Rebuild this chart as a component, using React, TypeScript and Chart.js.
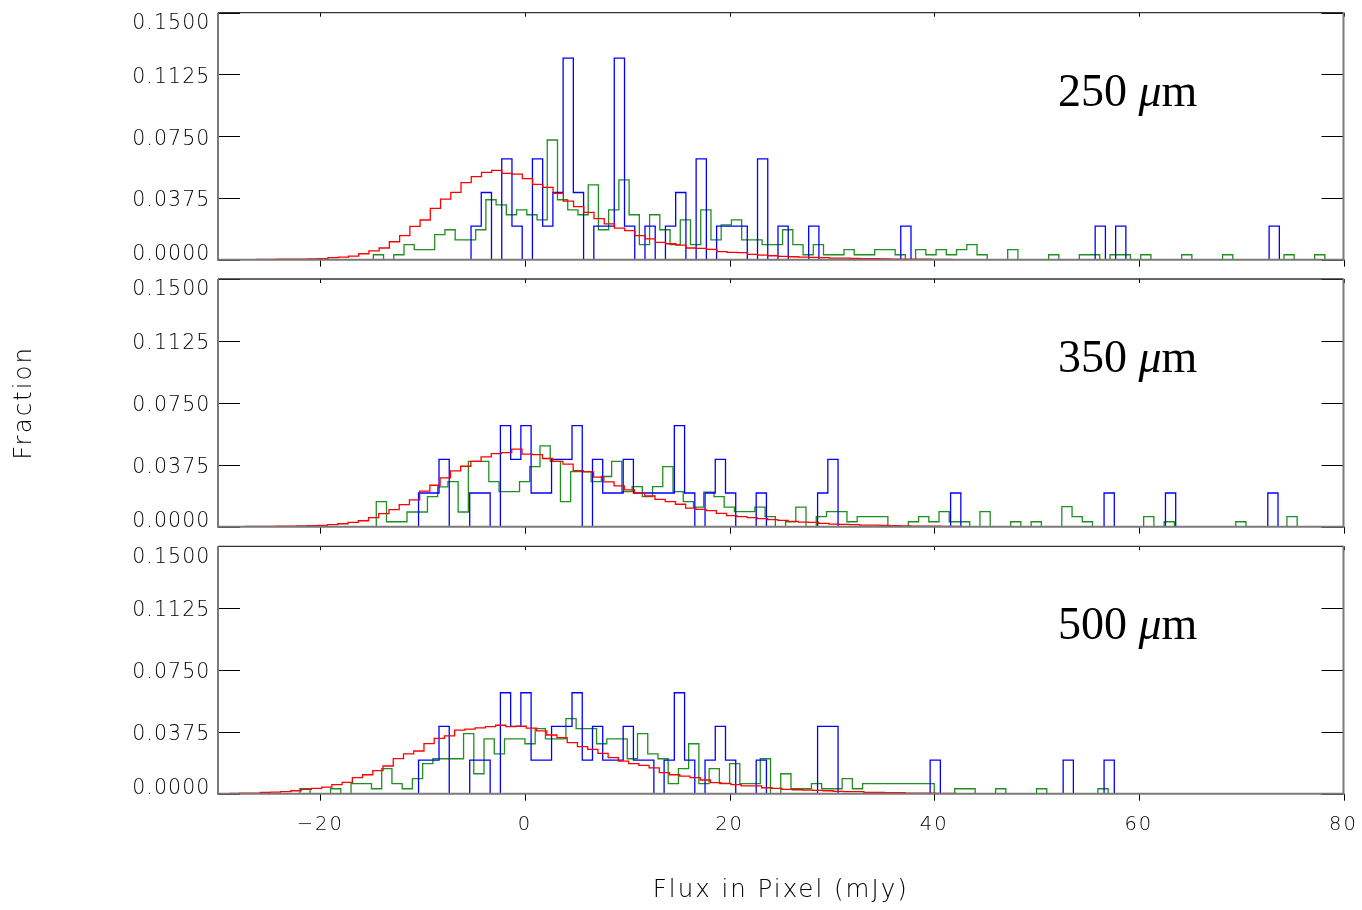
import { useEffect, useRef } from 'react';
import { Chart, registerables } from 'chart.js';

Chart.register(...registerables);

// ---------- axes ----------
const X_MIN = -30;
const X_MAX = 80;
const Y_MIN = 0;
const Y_MAX = 0.15;
const X_TICKS = [-20, 0, 20, 40, 60, 80];
const Y_TICKS = [0, 0.0375, 0.075, 0.1125, 0.15];
const Y_TICK_LABELS = ['0.0000', '0.0375', '0.0750', '0.1125', '0.1500'];
const X_TITLE = 'Flux in Pixel (mJy)';
const Y_TITLE = 'Fraction';
const BANDS = ['250', '350', '500'];
const BAND_UNIT = 'μm';
const BIN_WIDTH = 1;

// ---------- 250 micron ----------
const blue250Start = -5.27;
const blue250 = [
  0.0204, 0.0408, 0, 0.0612, 0.0204, 0, 0.0612, 0.0204, 0.0408, 0.1224,
  0.0408, 0, 0.0204, 0.0204, 0.1224, 0.0204, 0, 0.0204, 0, 0.0204,
  0.0408, 0, 0.0612, 0, 0.0204, 0.0204, 0.0204, 0, 0.0612, 0,
  0.0204, 0, 0, 0.0204, 0, 0, 0, 0, 0, 0,
  0, 0, 0.0204, 0, 0, 0, 0, 0, 0, 0,
  0, 0, 0, 0, 0, 0, 0, 0, 0, 0,
  0, 0.0204, 0, 0.0204, 0, 0, 0, 0, 0, 0,
  0, 0, 0, 0, 0, 0, 0, 0, 0.0204,
];
const red250Start = -30.25;
const red250 = [
  0.0001, 0.0001, 0.0001, 0.0001, 0.0002, 0.0002, 0.0003, 0.0003, 0.0004, 0.0005,
  0.0006, 0.0012, 0.0016, 0.0022, 0.0036, 0.0053, 0.0071, 0.0109, 0.0146, 0.0202,
  0.0241, 0.0312, 0.0368, 0.0409, 0.0468, 0.0504, 0.053, 0.0543, 0.0524, 0.052,
  0.0492, 0.0457, 0.0439, 0.0403, 0.0356, 0.0322, 0.0287, 0.0249, 0.0217, 0.0192,
  0.0176, 0.0146, 0.0126, 0.0105, 0.0097, 0.0089, 0.0071, 0.0069, 0.0063, 0.0049,
  0.0045, 0.0043, 0.0032, 0.0028, 0.0024, 0.002, 0.0018, 0.0016, 0.0014, 0.0012,
  0.001, 0.0009, 0.0008, 0.0007, 0.0006, 0.0005, 0.0004, 0.0004, 0.0003, 0.0003,
  0.0002, 0.0002, 0.0001, 0.0001, 0.0001, 0.0001,
];
const green250Start = -14.82;
const green250 = [
  0.003, 0, 0.003, 0.0091, 0.0061, 0.0061, 0.0152, 0.0182, 0.0121, 0.0121,
  0.0182, 0.0364, 0.0333, 0.0273, 0.0303, 0.0273, 0.0242, 0.0727, 0.0364, 0.0303,
  0.0273, 0.0455, 0.0182, 0.0303, 0.0485, 0.0273, 0.0091, 0.0273, 0.0182, 0.0091,
  0.0242, 0.0091, 0.0303, 0.0121, 0.0212, 0.0242, 0.0121, 0.0121, 0.0091, 0.0091,
  0.0182, 0.0091, 0.003, 0.0091, 0.003, 0.003, 0.0061, 0.003, 0.003, 0.0061,
  0.0061, 0.003, 0, 0.0061, 0.003, 0.0061, 0.003, 0.0061, 0.0091, 0.003,
  0, 0, 0.0061, 0, 0, 0, 0.003, 0, 0, 0.003,
  0.003, 0, 0.003, 0.003, 0, 0.003, 0, 0, 0, 0.003,
  0, 0, 0, 0.003, 0, 0, 0, 0, 0, 0.003,
  0, 0, 0.003,
];

// ---------- 350 micron ----------
const blue350Start = -10.4;
const blue350 = [
  0.0204, 0.0204, 0.0408, 0, 0, 0.0204, 0.0204, 0, 0.0612, 0.0408,
  0.0612, 0.0204, 0.0204, 0.0408, 0.0408, 0.0612, 0, 0.0408, 0.0204, 0.0204,
  0.0408, 0.0204, 0.0204, 0.0204, 0.0204, 0.0612, 0.0204, 0, 0.0204, 0.0408,
  0.0204, 0, 0, 0.0204, 0, 0, 0, 0, 0, 0.0204,
  0.0408, 0, 0, 0, 0, 0, 0, 0, 0, 0,
  0, 0, 0.0204, 0, 0, 0, 0, 0, 0, 0,
  0, 0, 0, 0, 0, 0, 0, 0.0204, 0, 0,
  0, 0, 0, 0.0204, 0, 0, 0, 0, 0, 0,
  0, 0, 0, 0.0204,
];
const red350Start = -27.29;
const red350 = [
  0.0002, 0.0002, 0.0002, 0.0003, 0.0004, 0.0005, 0.0006,
  0.0008, 0.0012, 0.0018, 0.0026, 0.0036, 0.0055, 0.0079, 0.0103, 0.0134, 0.0162,
  0.0215, 0.0251, 0.0296, 0.0338, 0.0366, 0.0395, 0.0423, 0.0443, 0.0449, 0.047,
  0.0439, 0.0437, 0.0413, 0.0395, 0.0379, 0.034, 0.0332, 0.03, 0.0271, 0.0247,
  0.0223, 0.0202, 0.0186, 0.0166, 0.0152, 0.0136, 0.0113, 0.0105, 0.0097, 0.0081,
  0.0067, 0.0061, 0.0055, 0.0049, 0.0043, 0.0038, 0.0032, 0.0028, 0.0026, 0.002,
  0.0016, 0.0014, 0.0012, 0.001, 0.0009, 0.0008, 0.0006, 0.0005, 0.0004, 0.0003,
  0.0003, 0.0002, 0.0002, 0.0001, 0.0001, 0.0001,
];
const green350Start = -14.53;
const green350 = [
  0.0152, 0.003, 0.003, 0.0089, 0.0089, 0.0182, 0.0241, 0.0273, 0.0089, 0.0395,
  0.0395, 0.0273, 0.0213, 0.0213, 0.0273, 0.0364, 0.049, 0.0395, 0.0152, 0.0334,
  0.0334, 0.0273, 0.0304, 0.0395, 0.0213, 0.0243, 0.0182, 0.0243, 0.0364, 0.0213,
  0.0152, 0.0119, 0.0209, 0.0182, 0.0119, 0.0091, 0.0091, 0.0119, 0.0061, 0,
  0.003, 0.0119, 0, 0.0061, 0.0091, 0.0091, 0.003, 0.0061, 0.0061, 0.0061,
  0, 0, 0.003, 0.0061, 0.003, 0.0091, 0.003, 0.003, 0, 0.0091,
  0, 0, 0.003, 0, 0.003, 0, 0, 0.0121, 0.0061, 0.003,
  0, 0, 0, 0, 0, 0.0061, 0, 0.003, 0, 0,
  0, 0, 0, 0, 0.003, 0, 0, 0, 0, 0.0061,
];

// ---------- 500 micron ----------
const blue500Start = -10.4;
const blue500 = [
  0.0204, 0.0204, 0.0408, 0, 0, 0.0204, 0.0204, 0, 0.0612, 0.0408,
  0.0612, 0.0204, 0.0204, 0.0408, 0.0408, 0.0612, 0.0204, 0.0408, 0.0204, 0.0204,
  0.0408, 0.0204, 0.0204, 0, 0.0204, 0.0612, 0.0204, 0, 0.0204, 0.0408,
  0.0204, 0, 0, 0.0204, 0, 0, 0, 0, 0, 0.0408,
  0.0408, 0, 0, 0, 0, 0, 0, 0, 0, 0,
  0.0204, 0, 0, 0, 0, 0, 0, 0, 0, 0,
  0, 0, 0, 0.0204, 0, 0, 0, 0.0204,
];
const red500Start = -29.87;
const red500 = [
  0.0001, 0.0002, 0.0003, 0.0004, 0.0008, 0.001, 0.0012, 0.0018, 0.0026, 0.0032,
  0.004, 0.0055, 0.0069, 0.0097, 0.0115, 0.014, 0.0168, 0.0213, 0.0241, 0.0259,
  0.0304, 0.0336, 0.035, 0.0385, 0.0391, 0.0399, 0.0407, 0.0415, 0.0407, 0.0409,
  0.0397, 0.0381, 0.0356, 0.034, 0.031, 0.0285, 0.0269, 0.0245, 0.0219, 0.0198,
  0.0182, 0.0172, 0.0156, 0.0128, 0.0115, 0.0107, 0.0097, 0.0083, 0.0067, 0.0063,
  0.0055, 0.0047, 0.0047, 0.0036, 0.0032, 0.0026, 0.0024, 0.0022, 0.002, 0.0018,
  0.0014, 0.0012, 0.0012, 0.0008, 0.0008, 0.0006, 0.0006, 0.0004, 0.0004, 0.0003,
  0.0002, 0.0002, 0.0001,
];
const green500Start = -22;
const green500 = [
  0.003, 0, 0, 0.003, 0, 0.0061, 0.0061, 0.003, 0.0152, 0.0061,
  0.003, 0.0091, 0.0182, 0.0212, 0.0212, 0.0212, 0.0364, 0.0121, 0.0333, 0.0242,
  0.0333, 0.0333, 0.0303, 0.0394, 0.0333, 0.0333, 0.0455, 0.0394, 0.0394, 0.0303,
  0.0333, 0.0333, 0.0212, 0.0364, 0.0242, 0.0212, 0.0061, 0.0152, 0.0303, 0.0061,
  0.0152, 0.0061, 0.0182, 0.0061, 0.0061, 0.0212, 0, 0.0121, 0.003, 0.003,
  0.0061, 0.003, 0.003, 0.0091, 0.003, 0.0061, 0.0061, 0.0061, 0.0061, 0.0061,
  0.0061, 0.0061, 0, 0, 0.003, 0.003, 0, 0, 0.003, 0,
  0, 0, 0.003, 0, 0, 0, 0, 0, 0.003,
];

const SERIES = [
  { green: [green250Start, green250], blue: [blue250Start, blue250], red: [red250Start, red250] },
  { green: [green350Start, green350], blue: [blue350Start, blue350], red: [red350Start, red350] },
  { green: [green500Start, green500], blue: [blue500Start, blue500], red: [red500Start, red500] },
] as const;

// ---------- layout (pixels) ----------
const W = 1362;
const H = 910;
const PLOT_LEFT = 218;
const PLOT_RIGHT = 1343.5;
const PANEL_BOX = [
  { top: 12.7, bottom: 259.7 },
  { top: 279, bottom: 526.7 },
  { top: 546.3, bottom: 793.7 },
];
const AXIS_FONT = 'DejaVu Sans';
const LETTER_SPACING = '2px';

function hist(start: number, values: readonly number[]) {
  const pts: { x: number; y: number }[] = [];
  if (start > X_MIN) pts.push({ x: X_MIN, y: 0 });
  values.forEach((v, i) => pts.push({ x: start + i * BIN_WIDTH, y: v }));
  const end = start + values.length * BIN_WIDTH;
  pts.push({ x: end, y: 0 });
  if (end < X_MAX) pts.push({ x: X_MAX, y: 0 });
  return pts;
}

const framePlugin = {
  id: 'frame',
  beforeDraw(chart: any) {
    chart.ctx.letterSpacing = LETTER_SPACING;
  },
  afterDraw(chart: any, _args: any, opts: any) {
    const { ctx } = chart;
    const { left, right, top, bottom } = chart.chartArea;
    const xs = chart.scales.x;
    const ys = chart.scales.y;
    ctx.save();
    // tick marks
    ctx.strokeStyle = '#000';
    ctx.lineWidth = 1;
    ctx.beginPath();
    for (const v of Y_TICKS) {
      const y = Math.round(ys.getPixelForValue(v)) + 0.5;
      ctx.moveTo(left, y);
      ctx.lineTo(left + 22, y);
      ctx.moveTo(right - 22, y);
      ctx.lineTo(right, y);
    }
    for (const v of X_TICKS) {
      const x = Math.round(xs.getPixelForValue(v)) + 0.5;
      ctx.moveTo(x, top);
      ctx.lineTo(x, top + 4);
      ctx.moveTo(x, bottom);
      ctx.lineTo(x, bottom + 7);
    }
    ctx.stroke();
    // frame
    ctx.strokeStyle = '#333';
    ctx.lineWidth = 1.3;
    ctx.beginPath();
    ctx.moveTo(left, top);
    ctx.lineTo(right, top);
    ctx.stroke();
    ctx.strokeStyle = '#7a7a7a';
    ctx.lineWidth = 2;
    ctx.beginPath();
    ctx.moveTo(left, top);
    ctx.lineTo(left, bottom);
    ctx.lineTo(right, bottom);
    ctx.lineTo(right, top);
    ctx.stroke();
    // y tick labels (IDL style: kept inside the panel)
    ctx.font = `200 20.5px "${AXIS_FONT}"`;
    ctx.letterSpacing = '1.1px';
    ctx.fillStyle = '#000';
    ctx.textAlign = 'right';
    ctx.textBaseline = 'alphabetic';
    Y_TICKS.forEach((v, i) => {
      let c = ys.getPixelForValue(v) + 1;
      c = Math.max(top + 9, Math.min(bottom - 7, c));
      ctx.fillText(Y_TICK_LABELS[i], left - 7.5, c + 7.3);
    });
    // band label
    ctx.letterSpacing = '0px';
    ctx.fillStyle = '#000';
    ctx.textAlign = 'left';
    const size = 46;
    let x = right - 285.5;
    const y = top + 93;
    ctx.font = `${size}px "Liberation Serif"`;
    const head = opts.band + ' ';
    ctx.fillText(head, x, y);
    x += ctx.measureText(head).width;
    ctx.font = `italic ${size}px "Liberation Serif"`;
    ctx.fillText(BAND_UNIT[0], x, y);
    x += ctx.measureText(BAND_UNIT[0]).width;
    ctx.font = `${size}px "Liberation Serif"`;
    ctx.fillText(BAND_UNIT.slice(1), x, y);
    ctx.restore();
  },
};

function makeConfig(i: number): any {
  const box = PANEL_BOX[i];
  const s = SERIES[i];
  const isBottom = i === 2;
  const isMiddle = i === 1;
  const tickFont = { family: AXIS_FONT, size: 19.5, weight: '200' };
  const titleFont = { family: AXIS_FONT, size: 24.5, weight: '200' };
  return {
    type: 'line',
    data: {
      datasets: [
        { label: 'green', data: hist(s.green[0], s.green[1]), borderColor: '#1f8f1f', order: 3 },
        { label: 'blue', data: hist(s.blue[0], s.blue[1]), borderColor: '#0000ff', order: 2 },
        { label: 'red', data: hist(s.red[0], s.red[1]), borderColor: '#ff0000', order: 1 },
      ].map((d) => ({ ...d, stepped: 'before', borderWidth: 1.3, pointRadius: 0, fill: false, tension: 0 })),
    },
    options: {
      animation: false,
      responsive: false,
      maintainAspectRatio: false,
      devicePixelRatio: 1,
      events: [],
      layout: { padding: { left: 0, right: W - PLOT_RIGHT, top: box.top, bottom: 0 } },
      plugins: {
        legend: { display: false },
        tooltip: { enabled: false },
        frame: { band: BANDS[i] },
      },
      scales: {
        x: {
          type: 'linear',
          min: X_MIN,
          max: X_MAX,
          grid: { display: false, drawTicks: false },
          border: { display: false },
          afterBuildTicks: (sc: any) => {
            sc.ticks = X_TICKS.map((v) => ({ value: v }));
          },
          afterFit: (sc: any) => {
            sc.height = H - box.bottom;
            sc.paddingLeft = 0;
            sc.paddingRight = 0;
          },
          ticks: {
            display: isBottom,
            autoSkip: false,
            maxRotation: 0,
            minRotation: 0,
            padding: 20,
            color: '#000',
            font: tickFont,
            callback: (v: number) => (v < 0 ? '\u2212' + Math.abs(v) : String(v)),
          },
          title: {
            display: isBottom,
            text: X_TITLE,
            color: '#000',
            font: titleFont,
            padding: { top: 0, bottom: 5 },
          },
        },
        y: {
          type: 'linear',
          min: Y_MIN,
          max: Y_MAX,
          grid: { display: false, drawTicks: false },
          border: { display: false },
          afterBuildTicks: (sc: any) => {
            sc.ticks = Y_TICKS.map((v) => ({ value: v }));
          },
          afterFit: (sc: any) => {
            sc.width = PLOT_LEFT;
            sc.paddingTop = 0;
            sc.paddingBottom = 0;
          },
          ticks: { display: false },
          title: {
            display: isMiddle,
            text: Y_TITLE,
            color: '#000',
            font: titleFont,
            padding: { top: 10, bottom: 0 },
          },
        },
      },
    },
    plugins: [framePlugin],
  };
}

export default function App() {
  const refs = useRef<(HTMLCanvasElement | null)[]>([]);
  useEffect(() => {
    const charts = PANEL_BOX.map((_, i) => new Chart(refs.current[i] as HTMLCanvasElement, makeConfig(i)));
    return () => charts.forEach((c) => c.destroy());
  }, []);
  return (
    <div style={{ position: 'absolute', left: 0, top: 0, width: W, height: H, background: '#fff' }}>
      {PANEL_BOX.map((_, i) => (
        <canvas
          key={i}
          ref={(el) => {
            refs.current[i] = el;
          }}
          width={W}
          height={H}
          style={{ position: 'absolute', left: 0, top: 0, width: W, height: H }}
        />
      ))}
    </div>
  );
}
